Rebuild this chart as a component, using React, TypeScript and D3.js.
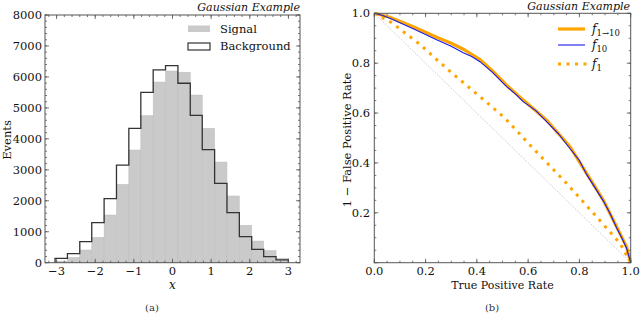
import * as React from 'react';
import * as d3 from 'd3';

// histogram (a)
const binEdges = [-3.04, -2.72, -2.4, -2.09, -1.77, -1.45, -1.13, -0.82, -0.5, -0.18, 0.14, 0.46, 0.77, 1.09, 1.41, 1.73, 2.05, 2.36, 2.68, 3.0];
const signalCounts = [50, 170, 410, 820, 1540, 2530, 3640, 4750, 5835, 6190, 6150, 5415, 4340, 3250, 2155, 1210, 700, 390, 140];
const backgroundCounts = [140, 290, 680, 1295, 2070, 3150, 4340, 5500, 6225, 6365, 5795, 4760, 3650, 2565, 1615, 840, 430, 195, 90];
const histYTicks = [0, 1000, 2000, 3000, 4000, 5000, 6000, 7000, 8000];
const histXTicks = [-3, -2, -1, 0, 1, 2, 3];

// ROC (b)
const tprCombined = [0, 0.061, 0.152, 0.243, 0.3, 0.347, 0.412, 0.46, 0.516, 0.581, 0.672, 0.763, 0.828, 0.893, 0.945, 0.984, 1];
const rejCombined = [1, 0.984, 0.946, 0.904, 0.88, 0.856, 0.815, 0.77, 0.712, 0.652, 0.572, 0.465, 0.358, 0.251, 0.144, 0.064, 0];
const tprTen = [0, 0.03, 0.061, 0.1, 0.152, 0.2, 0.243, 0.3, 0.347, 0.38, 0.412, 0.46, 0.516, 0.55, 0.581, 0.63, 0.672, 0.72, 0.763, 0.8, 0.828, 0.86, 0.893, 0.92, 0.945, 0.965, 0.984, 1];
const rejTen = [1, 0.992, 0.98, 0.962, 0.938, 0.915, 0.894, 0.868, 0.842, 0.827, 0.806, 0.764, 0.706, 0.677, 0.646, 0.61, 0.566, 0.515, 0.458, 0.41, 0.354, 0.302, 0.248, 0.196, 0.14, 0.1, 0.058, 0];
const tprOne = [0, 0.068, 0.176, 0.282, 0.389, 0.458, 0.51, 0.607, 0.75, 0.867, 0.958, 1];
const rejOne = [1, 0.962, 0.877, 0.779, 0.686, 0.626, 0.579, 0.472, 0.318, 0.184, 0.078, 0];
const rocTicks = [0, 0.2, 0.4, 0.6, 0.8, 1.0];

const font = 'DejaVu Serif';
const frameColor = '#555';

function Ticks({ x, y, xMinor, yMinor, xMajor, yMajor }: any) {
  const [x0, x1] = x.range();
  const [y0, y1] = y.range();
  const out: any[] = [];
  const add = (vals: number[], len: number, key: string) => {
    vals.forEach((v, i) => {
      const px = x(v);
      out.push(<line key={key + 'b' + i} x1={px} x2={px} y1={y0} y2={y0 - len} />);
      out.push(<line key={key + 't' + i} x1={px} x2={px} y1={y1} y2={y1 + len} />);
    });
  };
  const addY = (vals: number[], len: number, key: string) => {
    vals.forEach((v, i) => {
      const py = y(v);
      out.push(<line key={key + 'l' + i} x1={x0} x2={x0 + len} y1={py} y2={py} />);
      out.push(<line key={key + 'r' + i} x1={x1} x2={x1 - len} y1={py} y2={py} />);
    });
  };
  add(xMinor, 2, 'xm');
  add(xMajor, 4, 'xM');
  addY(yMinor, 2, 'ym');
  addY(yMajor, 4, 'yM');
  return <g stroke={frameColor} strokeWidth={0.8}>{out}</g>;
}

function Histogram() {
  const x = d3.scaleLinear().domain([-3.3, 3.3]).range([45, 300]);
  const y = d3.scaleLinear().domain([0, 8000]).range([262.7, 15]);
  const bins = signalCounts.map((c, i) => ({ x0: binEdges[i], x1: binEdges[i + 1], c }));
  const stepPts: [number, number][] = [[binEdges[0], 0]];
  backgroundCounts.forEach((c, i) => {
    stepPts.push([binEdges[i], c]);
    stepPts.push([binEdges[i + 1], c]);
  });
  stepPts.push([binEdges[binEdges.length - 1], 0]);
  const line = d3.line<[number, number]>().x(d => x(d[0])).y(d => y(d[1]));
  const xMinor = d3.range(-3.2, 3.3, 0.2).map(v => +v.toFixed(2));
  const yMinor = d3.range(0, 8001, 200);
  return (
    <g fontFamily={font}>
      {bins.map((b, i) => (
        <rect key={i} x={x(b.x0)} y={y(b.c)} width={x(b.x1) - x(b.x0)} height={y(0) - y(b.c)}
          fill="#cacaca" stroke="#bdbdbd" strokeWidth={0.5} />
      ))}
      <path d={line(stepPts) || ''} fill="none" stroke="#333" strokeWidth={1.3} />
      <rect x={45} y={15} width={255} height={247.7} fill="none" stroke={frameColor} strokeWidth={1} />
      <Ticks x={x} y={y} xMinor={xMinor} yMinor={yMinor} xMajor={histXTicks} yMajor={histYTicks} />
      {histYTicks.map(t => (
        <text key={t} x={42} y={y(t) + 4} textAnchor="end" fontSize={11.5} fill="#111">{t}</text>
      ))}
      {histXTicks.map(t => (
        <text key={t} x={x(t)} y={274.5} textAnchor="middle" fontSize={11.5} fill="#111">{t < 0 ? '\u2212' + Math.abs(t) : t}</text>
      ))}
      <text x={300} y={11} textAnchor="end" fontSize={11} fontStyle="italic" fill="#111">Gaussian Example</text>
      <text transform="translate(11,140) rotate(-90)" textAnchor="middle" fontSize={11.5} fill="#111">Events</text>
      <text x={172.5} y={289} textAnchor="middle" fontSize={12} fontStyle="italic" fill="#111">x</text>
      <rect x={188} y={25.5} width={22} height={6.5} fill="#cacaca" />
      <rect x={188} y={43} width={22} height={7} fill="none" stroke="#333" strokeWidth={1.2} />
      <text x={220} y={33} fontSize={11.5} fill="#111">Signal</text>
      <text x={220} y={50} fontSize={11.5} fill="#111">Background</text>
      <text x={152} y={311} textAnchor="middle" fontSize={10} fill="#333">(a)</text>
    </g>
  );
}

function Roc() {
  const x = d3.scaleLinear().domain([0, 1]).range([374.3, 630.7]);
  const y = d3.scaleLinear().domain([0, 1]).range([262.7, 13.3]);
  const mk = (xs: number[], ys: number[]) =>
    d3.line<number>().x(d => x(xs[d])).y(d => y(ys[d]))(d3.range(xs.length)) || '';
  const minor = d3.range(0, 1.001, 0.05).map(v => +v.toFixed(2));
  return (
    <g fontFamily={font}>
      <line x1={x(0)} y1={y(1)} x2={x(1)} y2={y(0)} stroke="#aaa" strokeWidth={0.8} strokeDasharray="1 1.5" />
      <path d={mk(tprOne, rejOne)} fill="none" stroke="#ffa500" strokeWidth={3} strokeDasharray="3 5.5" />
      <path d={mk(tprCombined, rejCombined)} fill="none" stroke="#ffa500" strokeWidth={3.2} />
      <path d={mk(tprTen, rejTen)} fill="none" stroke="#1a1ae6" strokeWidth={1.1} />
      <rect x={374.3} y={13.3} width={256.4} height={249.4} fill="none" stroke={frameColor} strokeWidth={1} />
      <Ticks x={x} y={y} xMinor={minor} yMinor={minor} xMajor={rocTicks} yMajor={rocTicks} />
      {rocTicks.filter(t => t > 0).map(t => (
        <text key={t} x={370} y={y(t) + 4} textAnchor="end" fontSize={11.5} fill="#111">{t.toFixed(1)}</text>
      ))}
      {rocTicks.map(t => (
        <text key={t} x={x(t)} y={274.5} textAnchor="middle" fontSize={11.5} fill="#111">{t.toFixed(1)}</text>
      ))}
      <text x={630} y={9.5} textAnchor="end" fontSize={11} fontStyle="italic" fill="#111">Gaussian Example</text>
      <text transform="translate(351,140) rotate(-90)" textAnchor="middle" fontSize={11.5} fill="#111">1 {'\u2212'} False Positive Rate</text>
      <text x={502.5} y={288.5} textAnchor="middle" fontSize={11} fill="#111">True Positive Rate</text>
      <line x1={558} x2={585} y1={29} y2={29} stroke="#ffa500" strokeWidth={3.2} />
      <line x1={558} x2={585} y1={45} y2={45} stroke="#1a1ae6" strokeWidth={1.1} />
      <line x1={558} x2={587} y1={64} y2={64} stroke="#ffa500" strokeWidth={3} strokeDasharray="3 5.5" />
      <text x={592} y={33} fontSize={12} fill="#111"><tspan fontStyle="italic">f</tspan><tspan fontSize={8.5} dy={3}>1{'\u2192'}10</tspan></text>
      <text x={592} y={49} fontSize={12} fill="#111"><tspan fontStyle="italic">f</tspan><tspan fontSize={8.5} dy={3}>10</tspan></text>
      <text x={592} y={68} fontSize={12} fill="#111"><tspan fontStyle="italic">f</tspan><tspan fontSize={8.5} dy={3}>1</tspan></text>
      <text x={492} y={311} textAnchor="middle" fontSize={10} fill="#333">(b)</text>
    </g>
  );
}

export default function App() {
  return (
    <svg width={640} height={327} style={{ position: 'absolute', left: 0, top: 0, background: '#fff' }}>
      <Histogram />
      <Roc />
    </svg>
  );
}
